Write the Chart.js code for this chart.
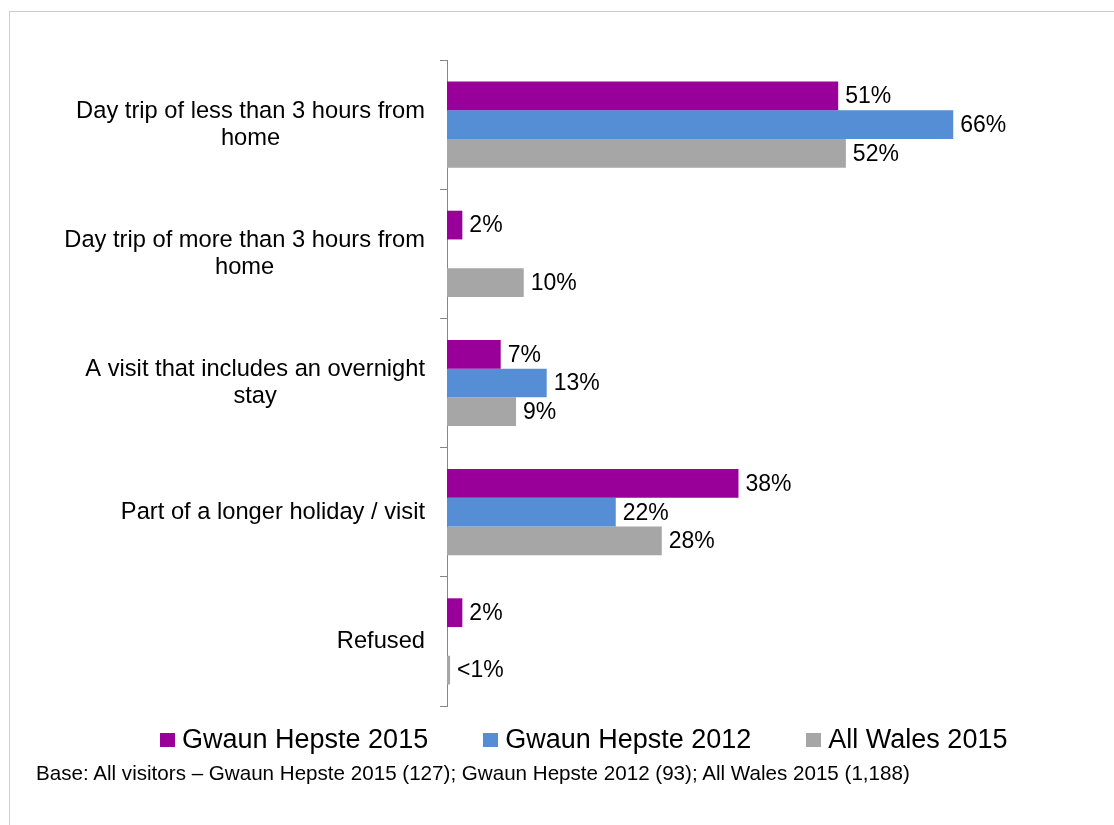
<!DOCTYPE html>
<html>
<head>
<meta charset="utf-8">
<script src="https://cdn.jsdelivr.net/npm/chart.js@4.4.1/dist/chart.umd.min.js"></script>
<style>
  body { margin: 0; background: #fff; font-family: "Liberation Sans", Arial, sans-serif; }
  #wrap { position: relative; width: 1114px; height: 825px; overflow: hidden; }
  #frame { position: absolute; left: 9px; top: 11px; width: 1120px; height: 840px; border: 1px solid #cccccc; }
  #chart-box { position: absolute; left: 0; top: 0; width: 1114px; height: 825px; }
  #legend { position: absolute; left: 160px; top: 724px; display: flex; align-items: center; font-size: 27px; color: #000; white-space: nowrap; }
  #legend .item { display: flex; align-items: center; margin-right: 55px; }
  #legend .box { width: 15px; height: 14px; margin-right: 7px; }
  #footer { position: absolute; left: 36px; top: 761px; font-size: 20.6px; color: #000; white-space: nowrap; }
</style>
</head>
<body>
<div id="wrap">
  <div id="frame"></div>
  <div id="chart-box"><canvas id="trip-chart"></canvas></div>
  <div id="legend"></div>
  <div id="footer">Base: All visitors – Gwaun Hepste 2015 (127); Gwaun Hepste 2012 (93); All Wales 2015 (1,188)</div>
</div>
<script>
// Categories (each one is a list of lines as shown on the axis)
const categories = [
    ['Day trip of less than 3 hours from', 'home'],
    ['Day trip of more than 3 hours from', 'home'],
    ['A visit that includes an overnight', 'stay'],
    ['Part of a longer holiday / visit'],
    ['Refused']
];

// Series values (%) - null where no bar is shown, <1% drawn as a sliver
const gwaun2015 = [51, 2, 7, 38, 2];
const gwaun2012 = [66, null, 13, 22, null];
const wales2015 = [52, 10, 9, 28, 0.4];

const seriesNames = ['Gwaun Hepste 2015', 'Gwaun Hepste 2012', 'All Wales 2015'];
const seriesColors = ['#990099', '#558ED5', '#A6A6A6'];

const FONT = '"Liberation Sans", Arial, sans-serif';

// draws the wrapped category labels: block right-aligned, lines centred inside it
const categoryLabels = {
    id: 'categoryLabels',
    afterDraw(chart) {
        const ctx = chart.ctx;
        const yScale = chart.scales.y;
        const right = chart.chartArea.left - 22;
        const lineH = 27;
        ctx.save();
        ctx.font = '23.7px ' + FONT;
        ctx.fillStyle = '#000';
        ctx.textAlign = 'center';
        ctx.textBaseline = 'middle';
        categories.forEach((lines, i) => {
            const y = yScale.getPixelForTick(i);
            const widest = Math.max(...lines.map(l => ctx.measureText(l).width));
            const cx = right - widest / 2;
            const top = y - (lines.length - 1) * lineH / 2;
            lines.forEach((l, j) => ctx.fillText(l, cx, top + j * lineH));
        });
        ctx.restore();
    }
};

// value labels to the right of each bar
const valueLabels = {
    id: 'valueLabels',
    afterDatasetsDraw(chart) {
        const ctx = chart.ctx;
        ctx.save();
        ctx.font = '23px ' + FONT;
        ctx.fillStyle = '#000';
        ctx.textAlign = 'left';
        ctx.textBaseline = 'middle';
        chart.data.datasets.forEach((ds, di) => {
            const meta = chart.getDatasetMeta(di);
            meta.data.forEach((bar, i) => {
                const v = ds.data[i];
                if (v === null || v === undefined) return;
                const txt = v < 1 ? '<1%' : v + '%';
                ctx.fillText(txt, bar.x + 7, bar.y + 1);
            });
        });
        ctx.restore();
    }
};

const ctx = document.getElementById('trip-chart').getContext('2d');
const chart = new Chart(ctx, {
    type: 'bar',
    data: {
        labels: categories,
        datasets: [
            { label: seriesNames[0], data: gwaun2015, backgroundColor: seriesColors[0] },
            { label: seriesNames[1], data: gwaun2012, backgroundColor: seriesColors[1] },
            { label: seriesNames[2], data: wales2015, backgroundColor: seriesColors[2] }
        ]
    },
    options: {
        indexAxis: 'y',
        responsive: true,
        maintainAspectRatio: false,
        animation: false,
        layout: {
            padding: { top: 60, right: 15, bottom: 119, left: 0 }
        },
        datasets: {
            bar: {
                categoryPercentage: 0.667,
                barPercentage: 1,
                borderWidth: 0
            }
        },
        scales: {
            x: {
                display: false,
                min: 0,
                max: 85
            },
            y: {
                afterFit: (scale) => { scale.width = 447; },
                ticks: { display: false },
                grid: {
                    offset: true,
                    drawOnChartArea: false,
                    drawTicks: true,
                    tickLength: 7,
                    color: '#868686'
                },
                border: { display: true, color: '#868686', width: 1 }
            }
        },
        plugins: {
            legend: { display: false },
            tooltip: { enabled: false }
        }
    },
    plugins: [categoryLabels, valueLabels]
});

// legend built from the chart's own datasets
const legendEl = document.getElementById('legend');
chart.data.datasets.forEach((ds) => {
    const item = document.createElement('div');
    item.className = 'item';
    item.innerHTML = '<span class="box" style="background:' + ds.backgroundColor + '"></span><span>' + ds.label + '</span>';
    legendEl.appendChild(item);
});
</script>
</body>
</html>
